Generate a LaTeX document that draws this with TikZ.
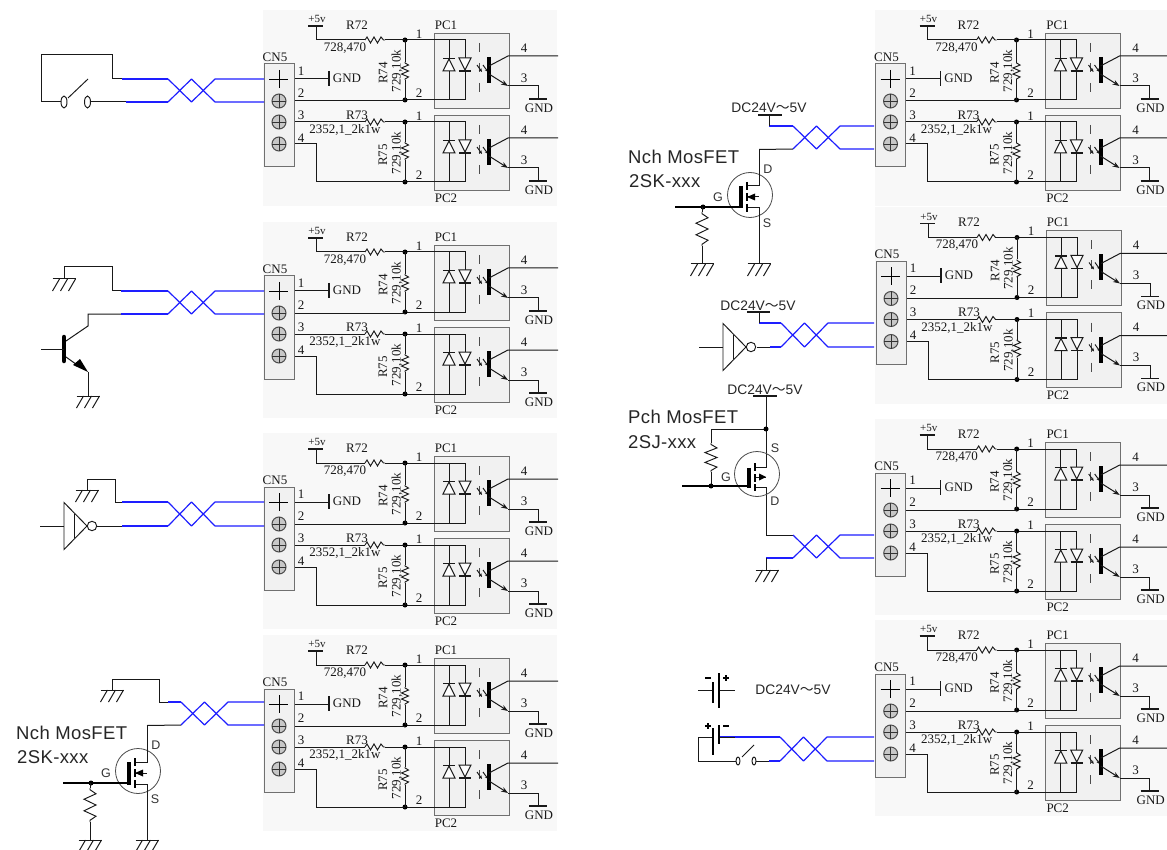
\documentclass[tikz,border=0pt]{standalone}
\usetikzlibrary{arrows.meta}
\usepackage{fontspec}
\setmainfont{Liberation Serif}
\newfontfamily\sansf{Liberation Sans}
\newfontfamily\fetf[LetterSpace=2]{Liberation Sans}
\newfontfamily\cjkf{Noto Sans CJK JP}
\definecolor{wireblue}{HTML}{1E1EFF}
\definecolor{panelbg}{HTML}{F8F8F8}
\definecolor{boxbg}{HTML}{F1F1F1}
\definecolor{boxline}{HTML}{707070}
\tikzset{
  wire/.style={black!90,line width=1pt},
  bluewire/.style={wireblue,line width=1.2pt},
  thin wire/.style={black!90,line width=0.95pt},
  fat/.style={black,line width=3.2pt},
  lab/.style={inner sep=0pt,font=\fontsize{13}{13}\selectfont,text=black!90},
  labv/.style={lab,rotate=90},
  dc/.style={inner sep=0pt,font=\sansf\fontsize{13.8}{14}\selectfont,text=black!85},
  fetname/.style={inner sep=0pt,anchor=west,font=\fetf\fontsize{18.5}{18}\selectfont,text=black!85},
  fetpin/.style={inner sep=0pt,font=\sansf\fontsize{12.5}{13}\selectfont,text=black!80},
  jdot/.style={circle,fill=black,inner sep=0pt,minimum size=5pt}
}
% ground symbol
\newcommand{\gndsym}[2]{\begin{scope}[shift={(#1,#2)}]
  \draw[wire] (-11.5,0)--(11.5,0);
  \foreach \t in {-4.5,3.5,11.5}{\draw[wire] (\t,0)--(\t-7,12);}
\end{scope}}
% zigzag resistor, 20 long
\newcommand{\resh}[2]{\begin{scope}[shift={(#1,#2)}]
  \draw[thin wire] (0,0)--(2,-3)--(5.5,3)--(9,-3)--(12.5,3)--(16,-3)--(18.5,0)--(20,0);
\end{scope}}
\newcommand{\resv}[4]{\draw[thin wire] (#1,#2)--(#1,#2+0.05*#3)
  --(#1+#4,#2+0.17*#3)--(#1-#4,#2+0.33*#3)--(#1+#4,#2+0.5*#3)--(#1-#4,#2+0.67*#3)--(#1+#4,#2+0.83*#3)--(#1,#2+0.95*#3)--(#1,#2+#3);}
% one optocoupler block
\newcommand{\opto}[1]{\begin{scope}[shift={(0,#1)}]
  \draw[boxline,fill=boxbg,line width=0.9pt] (174,28) rectangle (249,103);
  \draw[wire] (145,35)--(205,35)--(205,95)--(145,95);
  \draw[wire] (189,35)--(189,95);
  \draw[wire,fill=panelbg!30] (183,66)--(195,66)--(189,54)--cycle;
  \draw[wire,line width=1.3pt] (183,53.5)--(195,53.5);
  \draw[wire,fill=panelbg!30] (199,53)--(211,53)--(205,65)--cycle;
  \draw[wire,line width=1.6pt] (199,66)--(211,66);
  \draw[wire,black!70,dash pattern=on 9pt off 11pt] (219,38)--(219,95);
  \foreach \d in {0,6}{
    \draw[thin wire,-{Stealth[length=3.5pt,width=3pt]}] (217+\d,60)--(222+\d,67);
  }
  \draw[fat,line width=4pt] (229,52)--(229,78);
  \draw[wire] (229,61)--(248,51)--(298,51);
  \draw[wire,-{Stealth[length=7pt,width=5pt]}] (229,69)--(248,81);
  \draw[wire] (248,81)--(278,81)--(278,94);
  \draw[wire,line width=1.2pt] (269,94)--(287,94);
  \node[jdot] at (145,35) {};
  \node[jdot] at (145,95) {};
  \node[lab] at (264,43) {4};
  \node[lab] at (264,73) {3};
  \node[lab] at (159,29) {1};
  \node[lab] at (159,88) {2};
  \node[lab] at (279,103) {GND};
\end{scope}}
% whole board, origin as offset
\newcommand{\board}[2]{\begin{scope}[shift={(#1,#2)}]
  \fill[panelbg] (3,5) rectangle (297,201);
  \opto{0}
  \opto{82}
  % +5v and R72
  \draw[wire,line width=1.2pt] (48,21)--(63,21);
  \draw[wire] (56,21)--(56,35)--(105,35);
  \resh{105}{35}
  \draw[wire] (125,35)--(145,35);
  \draw[wire] (145,35)--(145,57) (145,75)--(145,95);
  \resv{145}{57}{18}{3.5}
  % line 3 and R73
  \draw[wire] (34,117)--(105,117);
  \resh{105}{117}
  \draw[wire] (125,117)--(145,117);
  \draw[wire] (145,117)--(145,137) (145,155)--(145,177);
  \resv{145}{137}{18}{3.5}
  % line 4, line 2
  \draw[wire] (34,139)--(56,139)--(56,177)--(145,177);
  \draw[wire] (34,96)--(145,96);
  % line 1
  \draw[wire] (34,74)--(69,74);
  \draw[wire,line width=1.3pt] (69,66)--(69,81);
  % connector
  \draw[boxline,fill=boxbg,line width=1pt] (4,59) rectangle (34,162);
  \draw[black,line width=0.9pt] (9,74)--(28,74) (19,65)--(19,83);
  \foreach \t in {96,117,139}{
    \draw[black!70,fill=black!22,line width=1pt] (19,\t) circle (7);
    \draw[black!80,line width=0.9pt] (12,\t)--(26,\t) (19,\t-7)--(19,\t+7);
  }
  % texts
  \node[lab] at (15,52) {CN5};
  \node[lab] at (41,66) {1};
  \node[lab] at (41,88) {2};
  \node[lab] at (41,110) {3};
  \node[lab] at (41,133) {4};
  \node[lab] at (87,73) {GND};
  \node[lab,font=\fontsize{11}{11}\selectfont] at (57,14) {+5v};
  \node[lab] at (97,20) {R72};
  \node[lab] at (85,43) {728,470};
  \node[lab] at (97,110) {R73};
  \node[lab] at (85,125) {2352,1\_2k1w};
  \node[labv] at (123,68) {R74};
  \node[labv] at (137,66) {729,10k};
  \node[labv] at (123,150) {R75};
  \node[labv] at (137,148) {729,10k};
  \node[lab] at (186,20) {PC1};
  \node[lab] at (186,193) {PC2};
\end{scope}}
% twisted pair: start x, top y, bottom y, end x
\newcommand{\twist}[4]{
  \draw[bluewire,line join=bevel] (#1,#2)--(#1+23.5,#3)--(#1+47,#2)--(#4,#2);
  \draw[bluewire,line join=bevel] (#1,#3)--(#1+23.5,#2)--(#1+47,#3)--(#4,#3);
}
\newcommand{\inverter}[2]{\begin{scope}[shift={(#1,#2)}]
  \draw[thin wire] (-24,0)--(0,0);
  \draw[thin wire] (0,-23.5)--(0,23.5)--(23,0)--cycle;
  \draw[thin wire] (10,-12)--(10,12);
  \draw[thin wire] (28,0) circle (4.7);
\end{scope}}
\newcommand{\nmos}[2]{\begin{scope}[shift={(#1,#2)}]
  \draw[black!70,line width=0.8pt] (0,0) circle (22.5);
  \draw[wire] (9,-45)--(9,-9)--(-3,-9);
  \draw[wire] (-3,13)--(9,13)--(9,69);
  \draw[wire] (-3,2)--(9,2);
  \fill[black] (-3,2)--(5,-1.5)--(5,5.5)--cycle;
  \draw[black,line width=1.3pt] (-3,-13)--(-3,-5) (-3,-2)--(-3,6) (-3,9)--(-3,17);
  \draw[fat] (-9,-9)--(-9,13.5);
  \draw[black,line width=2pt] (-75,12)--(-9,12);
  \node[jdot] at (-47,12) {};
  \draw[wire] (-48,12)--(-48,17) (-48,51)--(-48,69);
  \resv{-48}{17}{34}{6}
  \gndsym{-48}{69}
  \gndsym{9}{69}
  \node[fetpin] at (18,-26) {D};
  \node[fetpin] at (17,28) {S};
  \node[fetpin] at (-32,2) {G};
\end{scope}}
\newcommand{\switch}[5]{% x1 (left contact), x2, y, rx, ry
  \draw[thin wire,fill=white] (#1,#3) ellipse (#4 and #5);
  \draw[thin wire,fill=white] (#2,#3) ellipse (#4 and #5);
}
\begin{document}
\begin{tikzpicture}[x=1pt,y=-1pt]
\useasboundingbox (0,0) rectangle (1167,850);
\fill[white] (0,0) rectangle (1167,850);
\board{260}{5}
\board{260}{217}
\board{260}{428}
\board{260}{630}
\board{871.5}{5}
\board{872}{202.5}
\board{871.7}{414}
\board{871.7}{615}

% --- left 1: switch
\twist{168}{79}{102}{264}
\draw[bluewire] (122,79)--(168,79);
\draw[bluewire] (126,102)--(168,102);
\draw[wire] (122,79)--(112,79)--(112,55)--(41,55)--(41,102)--(61,102);
\draw[wire] (91,102)--(126,102);
\switch{64}{87.5}{102}{3}{6}{}
\draw[thin wire] (68,98)--(88,79);

% --- left 2: transistor
\twist{168}{291}{314}{264}
\draw[bluewire] (121,291)--(168,291);
\draw[bluewire] (121,314)--(168,314);
\draw[wire] (121,291)--(112,291)--(112,267)--(64,267)--(64,279);
\gndsym{64}{279}
\draw[wire] (121,314)--(88,314)--(88,326)--(66,341);
\draw[black,line width=4.5pt,line cap=round] (64,337)--(64,361);
\draw[wire] (41,349)--(64,349);
\draw[wire] (66,357)--(80,367);
\fill[black] (88,372)--(73,365)--(80,359)--cycle;
\draw[wire] (88,372)--(88,396);
\gndsym{88}{396}

% --- left 3: inverter
\twist{168}{502}{526}{264}
\draw[bluewire] (122,502)--(168,502);
\draw[bluewire] (122,526)--(168,526);
\draw[wire] (122,502)--(115,502)--(115,479)--(87,479)--(87,490);
\gndsym{87}{490}
\inverter{64}{526}
\draw[thin wire] (97,526)--(122,526);

% --- left 4: Nch FET
\twist{181}{702}{725}{264}
\draw[bluewire] (168,702)--(181,702);
\draw[wire] (168,702)--(159,702)--(159,679)--(112,679)--(112,690);
\gndsym{112}{690}
\draw[wire] (147,725.5)--(181,725);
\nmos{138}{771}
\node[fetname] at (16,733) {Nch MosFET};
\node[fetname] at (17,757) {2SK-xxx};

% --- right 1: Nch FET
\twist{793}{126}{149}{874}
\draw[bluewire] (769,126)--(793,126);
\draw[wire] (769,115)--(769,126);
\draw[wire,line width=1.2pt] (758,115)--(782,115);
\node[dc] at (769,108) {DC24V{\cjkf ～}5V};
\draw[wire] (759,149.5)--(793,149);
\nmos{750}{195}
\node[fetname] at (628,157) {Nch MosFET};
\node[fetname] at (629,181) {2SK-xxx};

% --- right 2: inverter
\twist{781}{323}{347}{874}
\draw[bluewire] (759,323)--(781,323);
\draw[wire] (759,312)--(759,323);
\draw[wire,line width=1.2pt] (747,312)--(770,312);
\node[dc] at (758,306) {DC24V{\cjkf ～}5V};
\inverter{723}{347}
\draw[thin wire] (757,347)--(770,347);
\draw[bluewire] (770,347)--(781,347);

% --- right 3: Pch FET
\node[dc] at (765,390) {DC24V{\cjkf ～}5V};
\draw[wire,line width=1.2pt] (753,396)--(777,396);
\draw[wire] (766,396)--(766,467)--(755,467);
\draw[wire] (755,487)--(766,487)--(766,535)--(793,535);
\draw[wire] (755,477)--(766,477);
\fill[black] (766,477)--(759,473.5)--(759,480.5)--cycle;
\draw[black,line width=1.3pt] (755,463)--(755,471) (755,474)--(755,482) (755,484)--(755,491);
\draw[black!70,line width=0.8pt] (757,474) circle (22.5);
\draw[fat] (749,468)--(749,488);
\draw[black,line width=2pt] (682,486)--(749,486);
\draw[wire] (766,429)--(711,429)--(711,443);
\resv{711}{443}{29}{6}
\draw[wire] (711,472)--(711,486);
\node[jdot] at (766,429) {};
\node[jdot] at (711,486) {};
\node[fetpin] at (775,448) {S};
\node[fetpin] at (775,501) {D};
\node[fetpin] at (726,477) {G};
\twist{793}{535}{558}{874}
\draw[bluewire] (766,558)--(793,558);
\draw[wire] (766,558)--(766,570);
\gndsym{767}{570}
\node[fetname] at (628,417) {Pch MosFET};
\node[fetname] at (628,442) {2SJ-xxx};

% --- right 4: batteries and switch
\draw[wire] (698,690)--(713,690) (719,690)--(735,690);
\draw[black,line width=1.5pt] (713,682)--(713,703) (719,673)--(719,708);
\draw[black,line width=1.5pt] (705,678)--(711,678) (723,678)--(729,678) (726,675)--(726,681);
\node[dc] at (793,690) {DC24V{\cjkf ～}5V};
\draw[wire] (698,737)--(713,737);
\draw[bluewire] (719,737)--(780,737);
\draw[wire] (719,737)--(735,737);
\draw[black,line width=1.5pt] (713,728)--(713,755) (719,725)--(719,744);
\draw[black,line width=1.5pt] (705,726)--(711,726) (708,723)--(708,729) (723,726)--(729,726);
\draw[wire] (698,737)--(698,761)--(736,761);
\switch{738}{754}{761}{2}{4}{}
\draw[thin wire] (742,757)--(754,745);
\draw[wire] (756,761)--(769,761);
\draw[bluewire] (769,761)--(780,761);
\twist{780}{737}{761}{874}
\end{tikzpicture}
\end{document}
